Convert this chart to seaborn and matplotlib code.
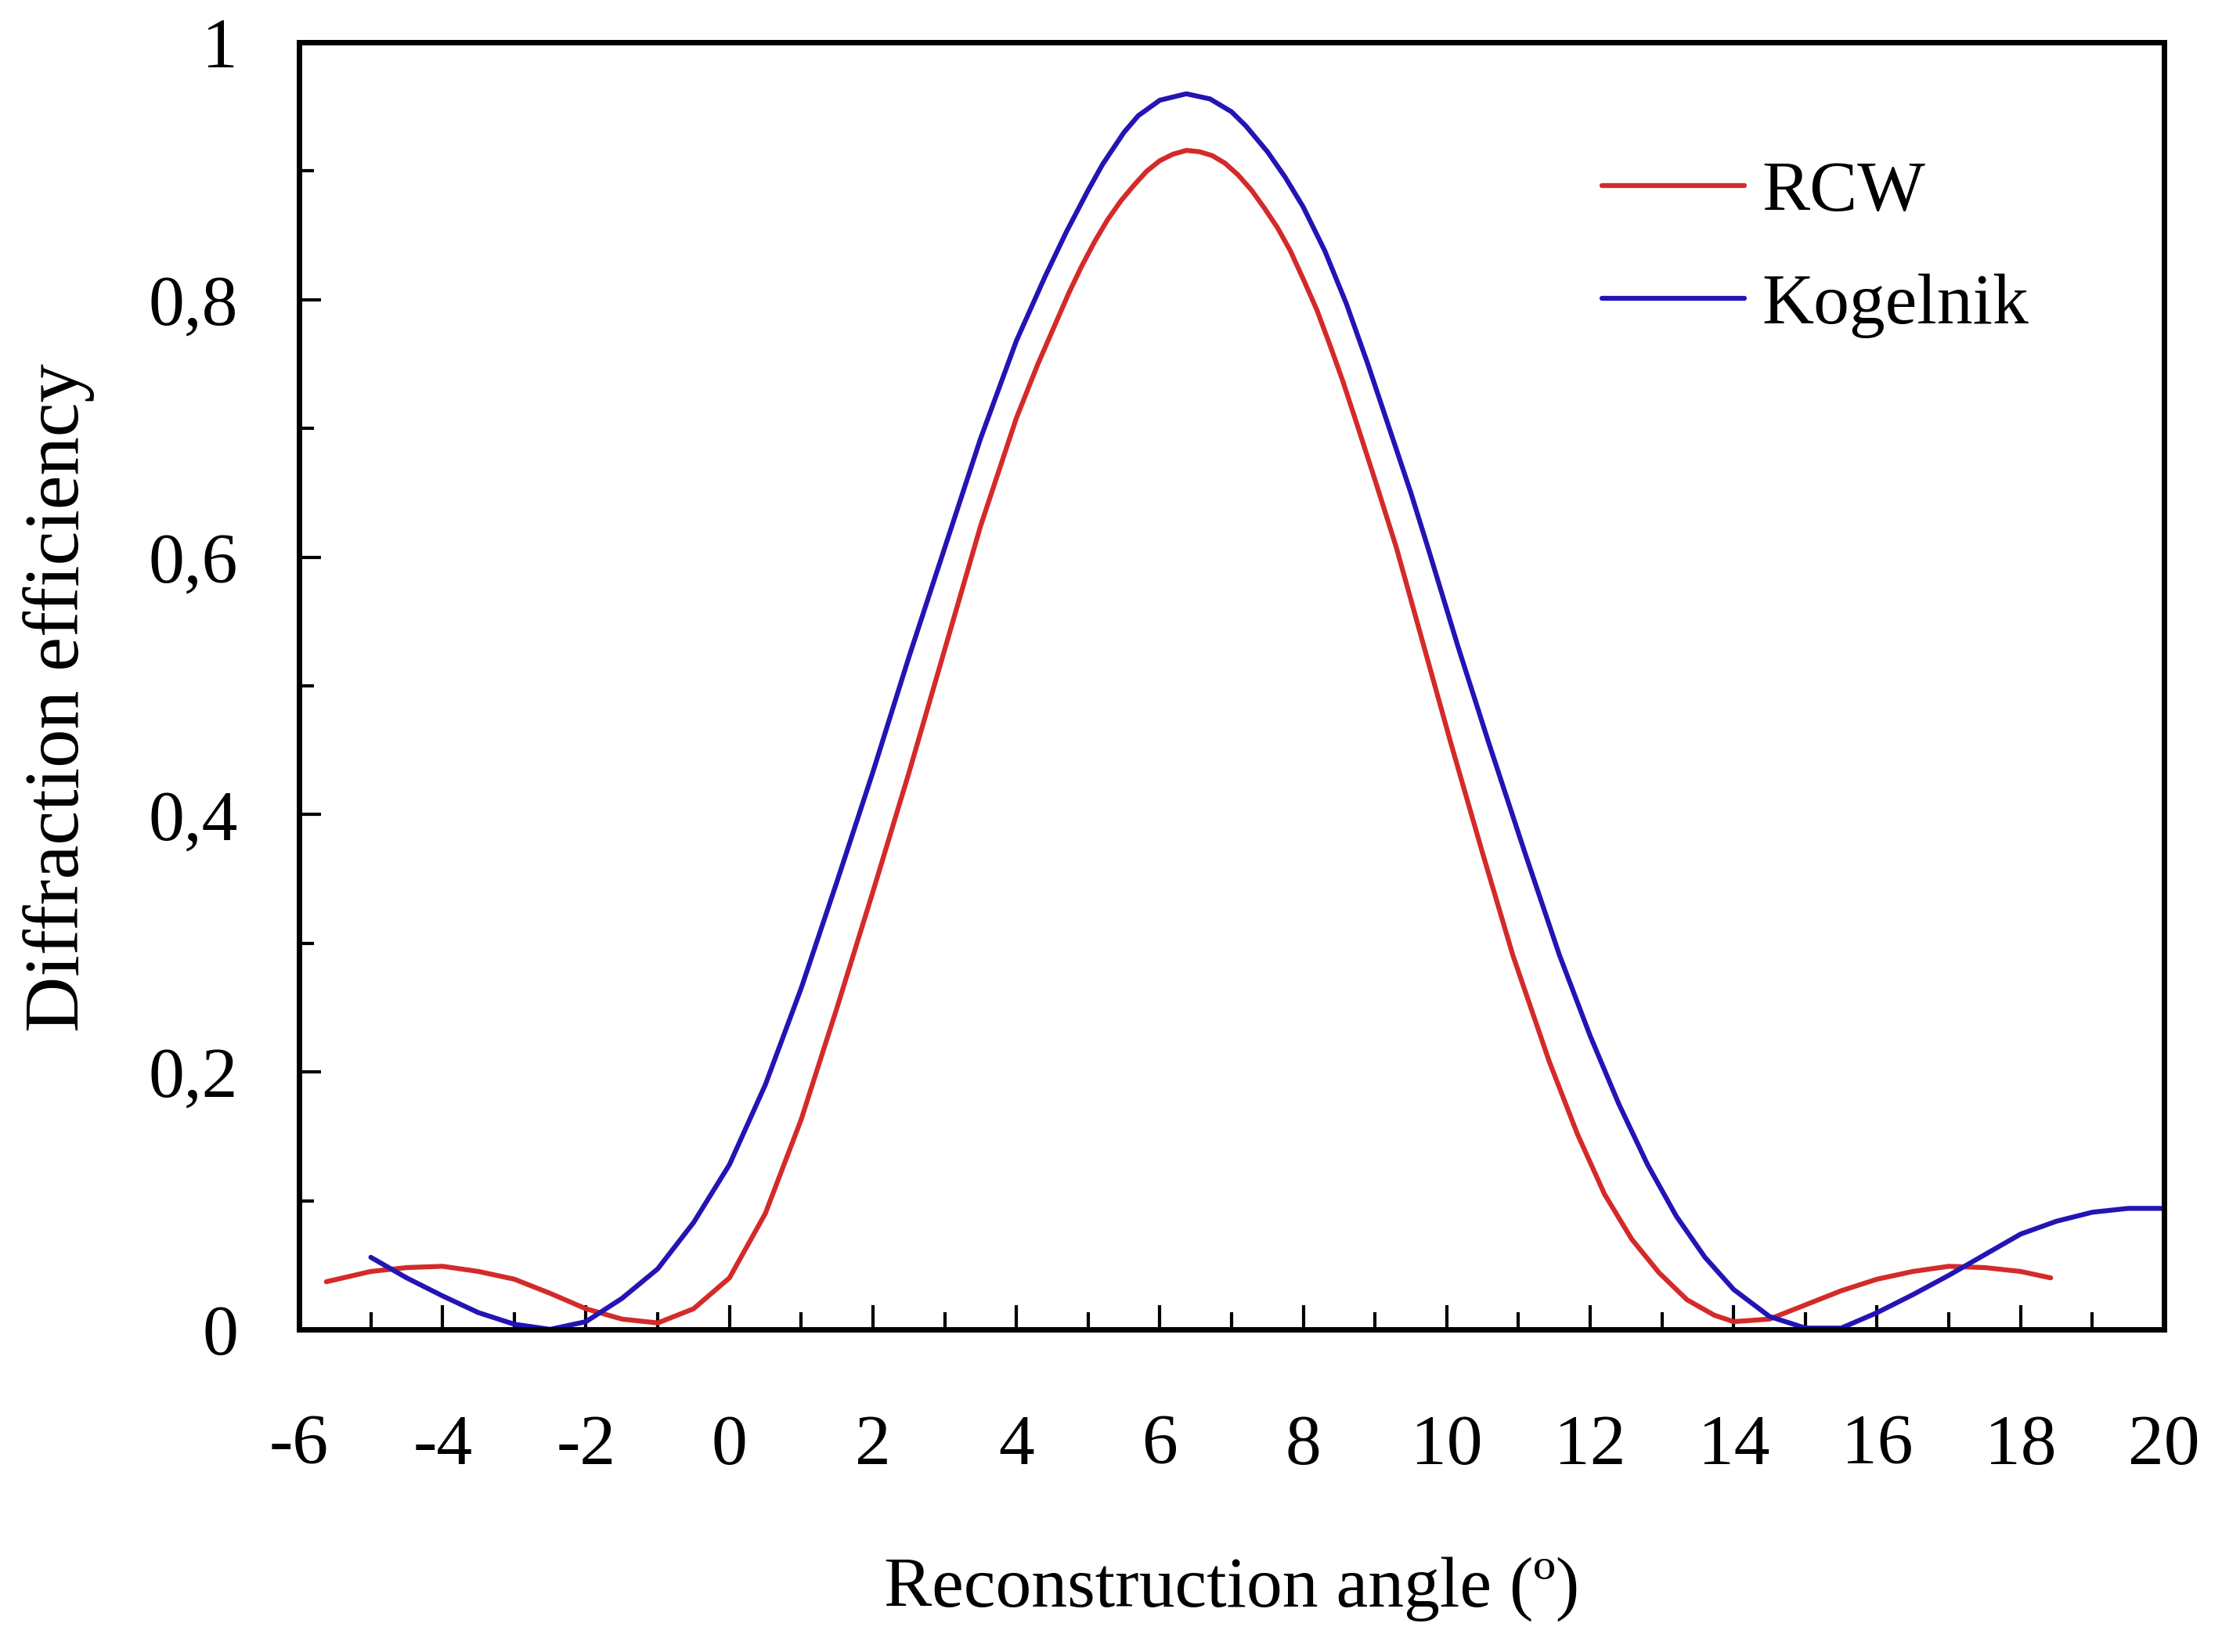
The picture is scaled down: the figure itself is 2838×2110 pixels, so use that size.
import numpy as np
import pandas as pd
import matplotlib.pyplot as plt
from matplotlib.ticker import MultipleLocator
import seaborn as sns

# values
rcw_angle = [-5.62, -5.0, -4.5, -4.0, -3.5, -3.0, -2.5, -2.0, -1.5, -1.0, -0.5,
             0.0, 0.5, 1.0, 1.5, 2.0, 2.5, 3.0, 3.5, 4.0, 4.3, 4.55, 4.73, 4.91,
             5.09, 5.27, 5.46, 5.64, 5.82, 6.0, 6.18, 6.37, 6.55, 6.73, 6.91, 7.09,
             7.28, 7.46, 7.64, 7.82, 8.0, 8.19, 8.37, 8.55, 8.75, 9.0, 9.3, 9.7,
             10.06, 10.5, 10.92, 11.43, 11.82, 12.2, 12.58, 12.96, 13.35, 13.73,
             14.0, 14.5, 15.0, 15.5, 16.0, 16.5, 17.0, 17.5, 18.0, 18.42]
rcw_eff = [0.037, 0.045, 0.048, 0.049, 0.045, 0.039, 0.028, 0.016, 0.008, 0.005, 0.016,
           0.040, 0.090, 0.163, 0.250, 0.340, 0.432, 0.528, 0.624, 0.708, 0.750, 0.782, 0.805, 0.826,
           0.845, 0.862, 0.877, 0.889, 0.900, 0.908, 0.913, 0.916, 0.915, 0.912, 0.906, 0.897,
           0.885, 0.871, 0.856, 0.838, 0.816, 0.792, 0.765, 0.737, 0.703, 0.660, 0.607, 0.527,
           0.455, 0.370, 0.291, 0.208, 0.152, 0.105, 0.070, 0.044, 0.023, 0.011,
           0.006, 0.008, 0.019, 0.030, 0.039, 0.045, 0.049, 0.048, 0.045, 0.040]

kog_angle = [-5.0, -4.5, -4.0, -3.5, -3.0, -2.5, -2.0, -1.5, -1.0, -0.5,
             0.0, 0.5, 1.0, 1.5, 2.0, 2.5, 3.0, 3.5, 4.0, 4.4, 4.7, 5.0, 5.2,
             5.5, 5.7, 6.0, 6.37, 6.7, 7.0, 7.2, 7.5, 7.75, 8.0, 8.3,
             8.6, 8.9, 9.2, 9.5, 9.74, 10.16, 10.59, 11.08, 11.57, 12.0,
             12.4, 12.8, 13.2, 13.6, 14.0, 14.5, 15.0, 15.5,
             16.0, 16.5, 17.0, 17.5, 18.0, 18.5, 19.0, 19.5, 20.0]
kog_eff = [0.056, 0.040, 0.026, 0.013, 0.004, 0.000, 0.006, 0.024, 0.047, 0.083,
           0.128, 0.190, 0.265, 0.348, 0.433, 0.522, 0.607, 0.692, 0.768, 0.818, 0.853, 0.885, 0.905,
           0.930, 0.943, 0.955, 0.960, 0.956, 0.946, 0.935, 0.915, 0.895, 0.872, 0.838,
           0.797, 0.750, 0.700, 0.650, 0.607, 0.530, 0.455, 0.372, 0.291, 0.228,
           0.175, 0.128, 0.088, 0.056, 0.031, 0.010, 0.001, 0.001,
           0.013, 0.027, 0.042, 0.058, 0.074, 0.084, 0.091, 0.094, 0.094]

x_ticks = list(range(-6, 21, 2))
y_ticks = [0, 0.2, 0.4, 0.6, 0.8, 1]
y_tick_labels = ["0", "0,2", "0,4", "0,6", "0,8", "1"]

series_names = ["RCW", "Kogelnik"]
series_colors = {"RCW": "#d42a2a", "Kogelnik": "#2414b4"}

sns.set_style("ticks")
plt.rcParams["font.family"] = ["Liberation Serif", "DejaVu Serif"]
plt.rcParams["axes.unicode_minus"] = False
plt.rcParams["text.color"] = "black"
plt.rcParams["axes.labelcolor"] = "black"
plt.rcParams["xtick.color"] = "black"
plt.rcParams["ytick.color"] = "black"

df = pd.concat([
    pd.DataFrame({"angle": rcw_angle, "eff": rcw_eff, "model": "RCW"}),
    pd.DataFrame({"angle": kog_angle, "eff": kog_eff, "model": "Kogelnik"}),
], ignore_index=True)

fig = plt.figure(figsize=(28.38, 21.10), dpi=100)
ax = fig.add_axes([0.1346, 0.1953, 0.8393, 0.7791])

sns.lineplot(data=df, x="angle", y="eff", hue="model", hue_order=series_names,
             palette=series_colors, sort=False, estimator=None,
             linewidth=4.5, ax=ax)

ax.set_xlim(-6, 20)
ax.set_ylim(0, 1)
ax.set_xticks(x_ticks)
ax.set_yticks(y_ticks, y_tick_labels)
ax.xaxis.set_minor_locator(MultipleLocator(1))
ax.yaxis.set_minor_locator(MultipleLocator(0.1))

for s in ax.spines.values():
    s.set_visible(True)
    s.set_linewidth(5)
    s.set_color("black")

ax.tick_params(axis="x", which="major", direction="in", length=22, width=3,
               pad=78, labelsize=66, top=False)
ax.tick_params(axis="x", which="minor", direction="in", length=16, width=3, top=False)
ax.tick_params(axis="y", which="major", direction="in", length=20, width=3,
               pad=56, labelsize=66, right=False)
ax.tick_params(axis="y", which="minor", direction="in", length=14, width=3, right=False)

ax.set_xlabel("Reconstruction angle (º)", fontsize=66)
ax.set_ylabel("Diffraction efficiency", fontsize=71)
ax.xaxis.set_label_coords(0.5, -0.1764)
ax.yaxis.set_label_coords(-0.1096, 0.491)

handles, labels = ax.get_legend_handles_labels()
ax.legend(handles, labels, loc="upper left", bbox_to_anchor=(0.6986, 0.908),
          frameon=False, fontsize=66, handlelength=1.98, handletextpad=0.25,
          labelspacing=0.66, borderpad=0, borderaxespad=0)

plt.savefig("out.png", dpi=100)
plt.close()
